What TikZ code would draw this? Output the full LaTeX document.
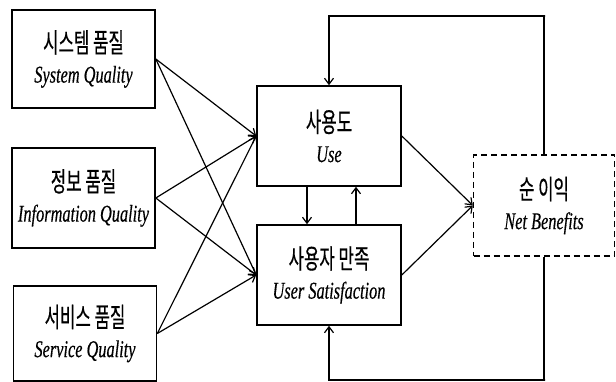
\documentclass[tikz,border=0pt]{standalone}
\usepackage{fontspec}
\newfontfamily\kofont{Noto Sans CJK KR}[FakeStretch=0.62, FakeBold=0.4]
\newfontfamily\enfont{Liberation Serif}[FakeStretch=0.68, FakeBold=0.4]
\usetikzlibrary{arrows.meta,calc}
\newcommand{\kolab}[2]{{\kofont\fontsize{27}{27}\selectfont #1}\\[4pt]{\enfont\itshape #2}}

\begin{document}
\begin{tikzpicture}[
  x=1pt, y=-1pt,
  font=\fontsize{24}{26}\selectfont,
  box/.style={draw, line width=1.6pt, align=center, inner sep=0pt,
    minimum width=143pt, minimum height=98pt},
  nbbox/.style={box, line width=1.3pt, dash pattern=on 6pt off 4pt},
  arr/.style={-{Straight Barb[length=6pt,width=9pt]}, line width=1.2pt}
]
\useasboundingbox (0,0) rectangle (616,382);
% quality boxes
\node[box] (sys) at (83.5,59) {\kolab{시스템 품질}{System Quality}};
\node[box, minimum height=100pt] (inf) at (83.5,198) {\kolab{정보 품질}{Information Quality}};
\node[box, minimum height=95pt] (srv) at (85,333.5) {\kolab{서비스 품질}{Service Quality}};

\node[box, minimum height=100pt, minimum width=144pt] (use) at (329,136) {\kolab{사용도}{Use}};
\node[box, minimum height=100pt, minimum width=144pt] (usr) at (329,275) {\kolab{사용자 만족}{User Satisfaction}};
\node[nbbox, minimum height=101pt, minimum width=141pt] (net) at (544,205.5) {\kolab{순 이익}{Net Benefits}};

\foreach \q in {sys,inf,srv} {
  \draw[arr] (\q.east) -- (use.west);
  \draw[arr] (\q.east) -- (usr.west);
}
\draw[arr] ($(use.south)+(-22,0)$) -- ($(usr.north)+(-22,0)$);
\draw[arr] ($(usr.north)+(27,0)$) -- ($(use.south)+(27,0)$);
\draw[arr] (use.east) -- (net.west);
\draw[arr] (usr.east) -- (net.west);

% feedback
\coordinate (ftop) at (545,16);
\coordinate (fbot) at (545,380);
\draw[arr] (net.north) |- (ftop) -| (use.north);
\draw[arr] (net.south) |- (fbot) -| (usr.south);
\end{tikzpicture}
\end{document}
